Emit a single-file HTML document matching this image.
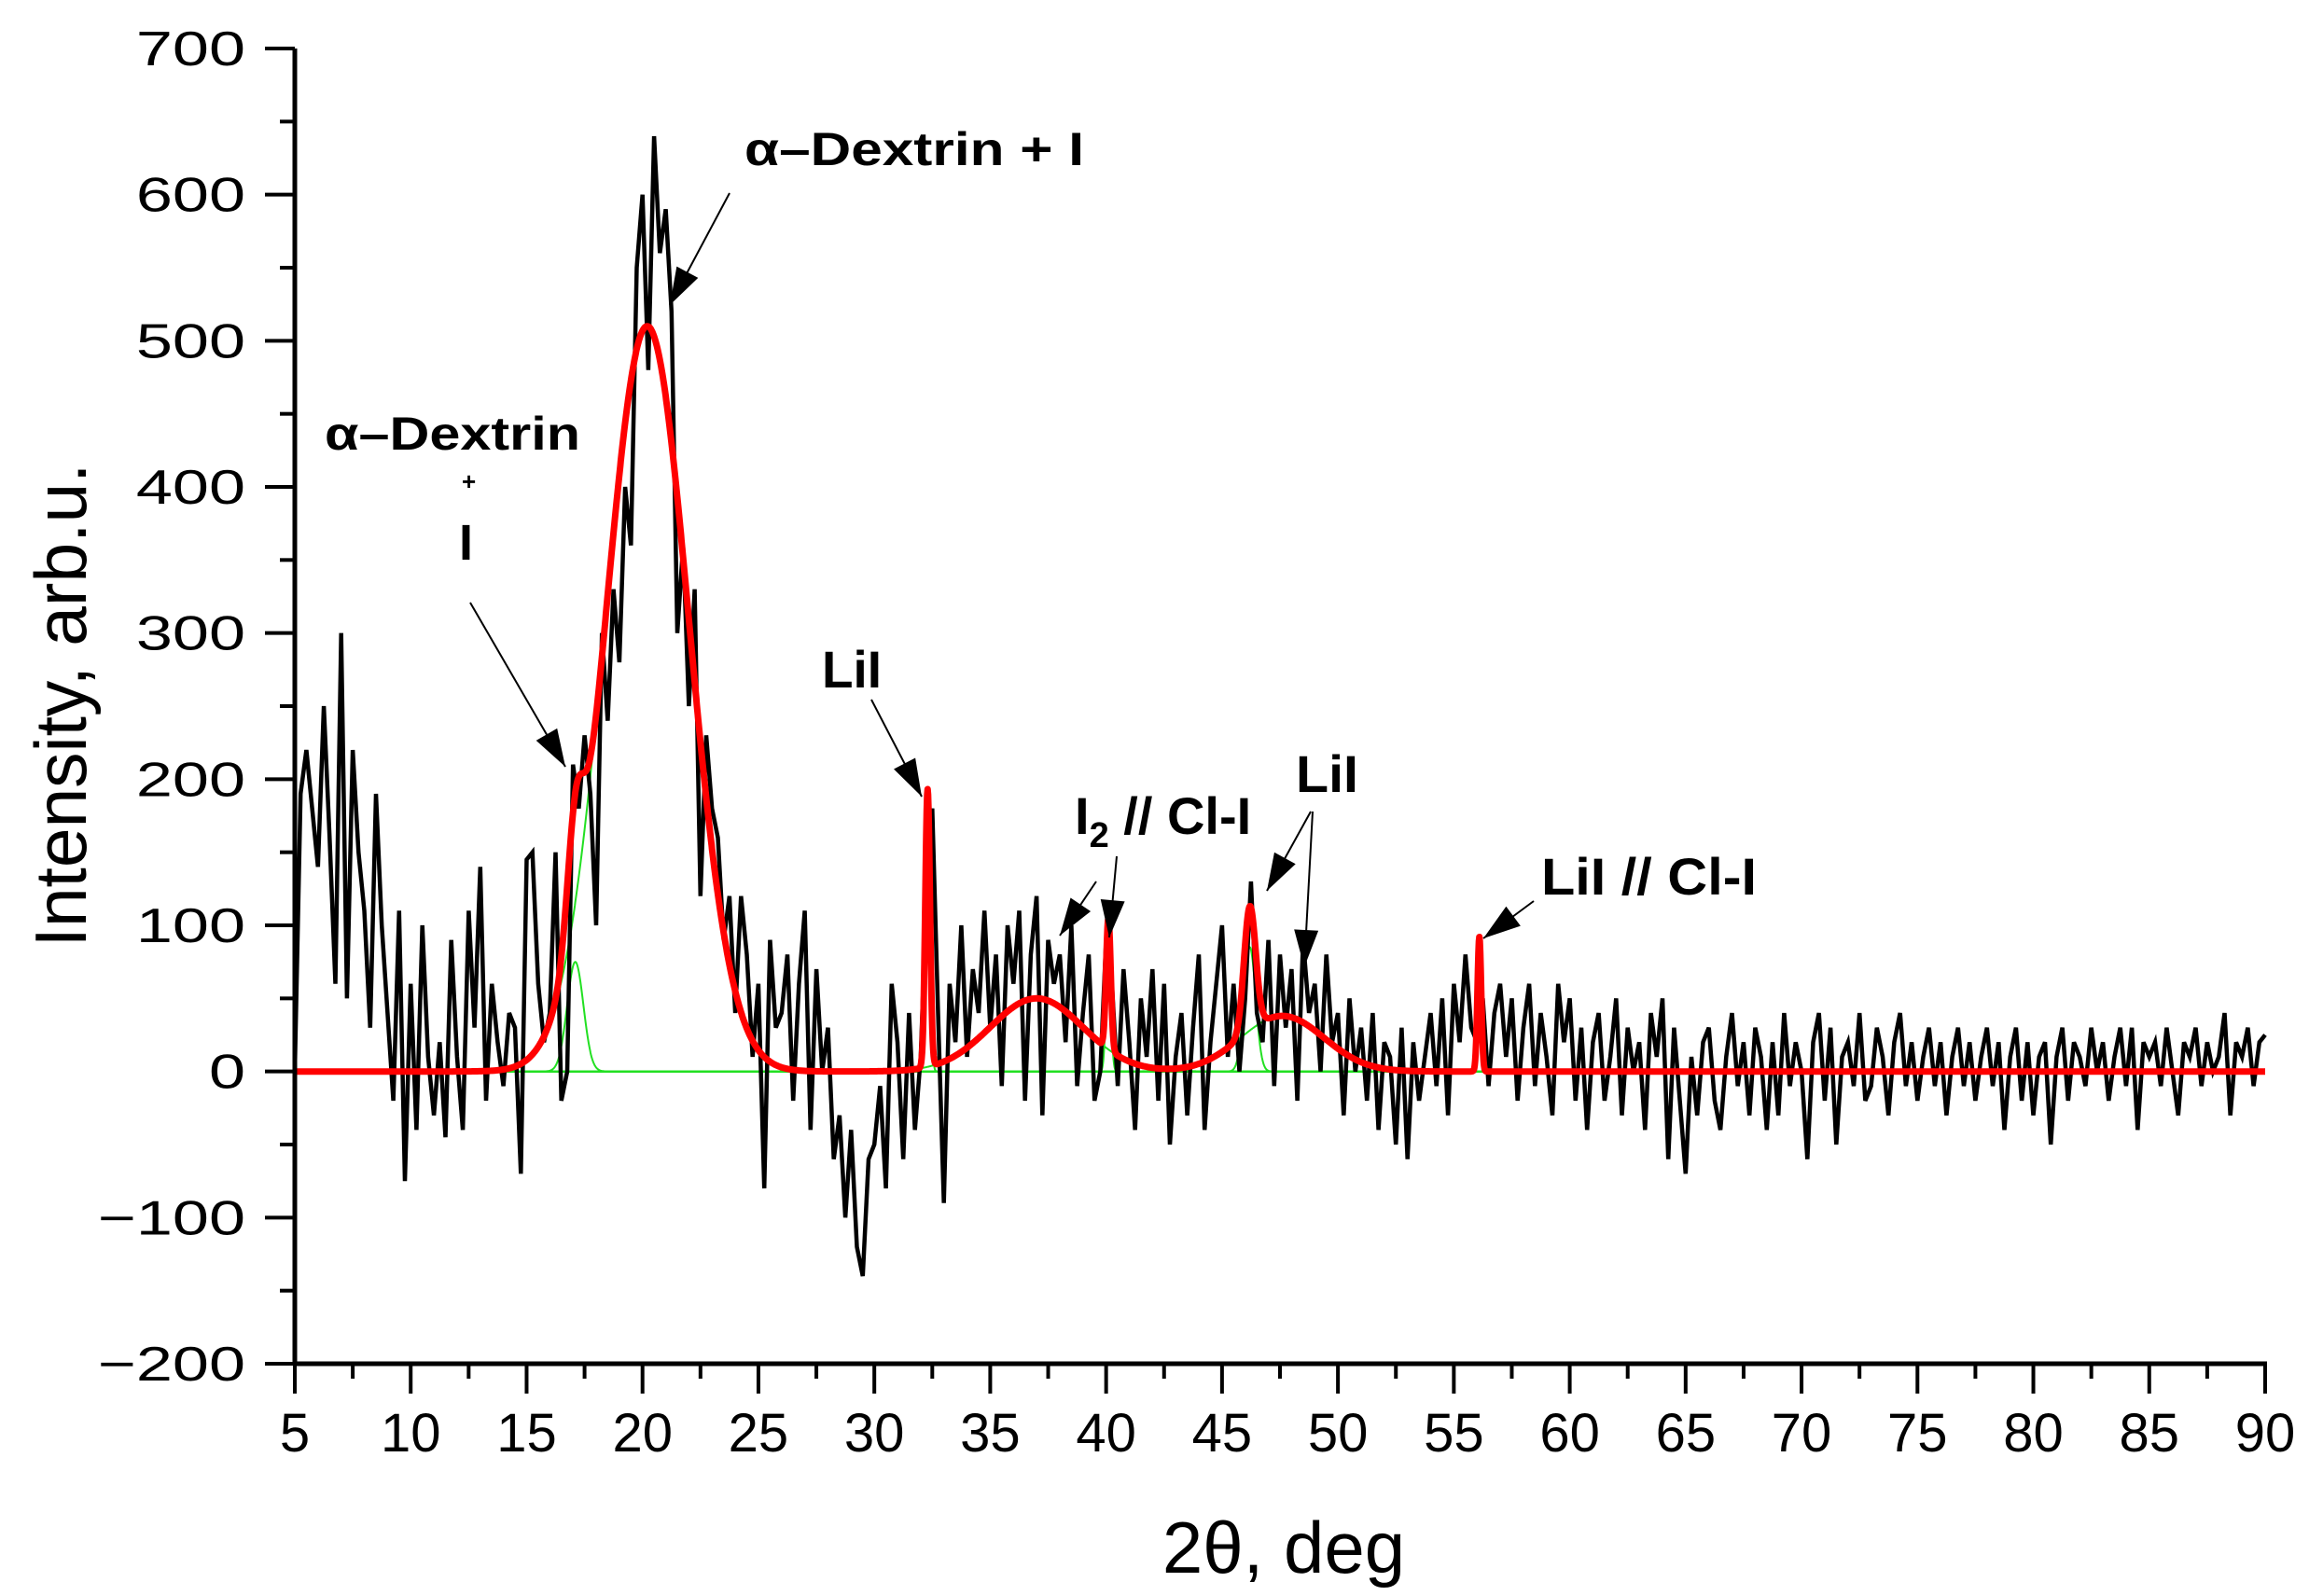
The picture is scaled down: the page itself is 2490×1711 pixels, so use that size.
<!DOCTYPE html>
<html><head><meta charset="utf-8"><style>html,body{margin:0;padding:0;background:#fff}svg{display:block}</style></head>
<body>
<svg id="chart" width="2490" height="1711" viewBox="0 0 2490 1711" xmlns="http://www.w3.org/2000/svg" font-family="'Liberation Sans', Arial, sans-serif">
<g id="grid"></g>
</svg>
<script>
// ---- data ----
const xStart = 5, xStep = 0.25;
const intensity = [
0,190,220,180, 140,250,160,60, 300,50,220,150, 110,30,190,100, 40,-20,110,-75,
60,-40,100,10, -30,20,-45,90, 10,-40,110,30, 140,-20,60,20, -10,40,30,-70,
145,150,60,20, 40,150,-20,0, 210,180,230,190, 100,300,240,330, 280,400,360,550,
600,480,640,560, 590,520,300,360, 250,330,120,230, 180,160,90,120, 40,120,80,10,
60,-80,90,30, 40,80,-20,60, 110,-40,70,0, 30,-60,-30,-100, -40,-120,-140,-60,
-50,-10,-80,60, 20,-60,40,-40, 10,120,180,40, -90,60,20,100, 10,70,40,110,
30,80,-10,100, 60,110,-20,80, 120,-30,90,60, 80,20,100,-10, 40,80,-20,0,
90,60,-10,70, 20,-40,50,10, 70,-20,60,-50, 10,40,-30,30, 80,-40,20,60,
100,10,60,0, 50,130,40,20, 90,-10,80,30, 70,-20,90,40, 60,0,80,20,
40,-30,50,0, 30,-20,40,-40, 20,10,-50,30, -60,20,-20,10, 40,-10,50,-30,
60,20,80,30, 20,50,-10,40, 60,10,50,-20, 30,60,-10,40, 10,-30,60,20,
50,-20,30,-40, 20,40,-20,10, 50,-30,30,0, 20,-40,40,10, 50,-60,30,-20,
-70,10,-30,20, 30,-20,-40,10, 40,-10,20,-30, 30,10,-40,20, -30,40,-10,20,
0,-60,20,40, -20,30,-50,10, 20,-10,40,-20, -10,30,10,-30, 20,40,-10,20,
-20,10,30,-10, 20,-30,10,30, -10,20,-20,10, 30,-10,20,-40, 10,30,-20,20,
-30,10,20,-50, 10,30,-20,20, 10,-10,30,0, 20,-20,10,30, -10,30,-40,20,
10,20,-10,30, 0,-30,20,10, 30,-10,20,0, 10,40,-30,20, 10,30,-10,20, 25];
const peakCenters = [17.1, 20.2, 32.3, 37.0, 40.1, 46.2, 47.6, 56.1];
const peakHeights = [75, 510, 190, 50, 90, 85, 38, 92];
const peakSigmas  = [0.35, 1.8, 0.1, 2.0, 0.1, 0.25, 1.8, 0.08];
const xTicks = [5,10,15,20,25,30,35,40,45,50,55,60,65,70,75,80,85,90];
const yTicks = [-200,-100,0,100,200,300,400,500,600,700];

// ---- axes ----
const L=316, R=2428, T=52, B=1462;
const sx = v => L + (v-5)/(90-5)*(R-L);
const sy = v => B - (v+200)/900*(B-T);
const NS="http://www.w3.org/2000/svg";
const svg=document.getElementById('chart');
function mk(tag, attrs, parent){const e=document.createElementNS(NS,tag);for(const k in attrs)e.setAttribute(k,attrs[k]);(parent||svg).appendChild(e);return e;}

// green components
peakCenters.forEach((c,i)=>{
  let d='';
  for(let x=5;x<=90.001;x+=0.02){const y=peakHeights[i]*Math.exp(-((x-c)**2)/(2*peakSigmas[i]**2));d+=(d?'L':'M')+sx(x).toFixed(1)+','+sy(y).toFixed(1);}
  const p=mk('path',{d:d,fill:'none',stroke:'#22e022','stroke-width':2});
  
  
});
// black data
let dd='';
intensity.forEach((v,i)=>{dd+=(i?'L':'M')+sx(xStart+i*xStep).toFixed(1)+','+sy(v).toFixed(1);});
const dl=mk('path',{d:dd,fill:'none',stroke:'#000','stroke-width':4.5,'stroke-linejoin':'miter'});


// red sum
let rd='';
for(let x=5;x<=90.001;x+=0.02){let y=0;peakCenters.forEach((c,i)=>{y+=peakHeights[i]*Math.exp(-((x-c)**2)/(2*peakSigmas[i]**2));});rd+=(rd?'L':'M')+sx(x).toFixed(1)+','+sy(y).toFixed(1);}
const rl=mk('path',{d:rd,fill:'none',stroke:'#ff0000','stroke-width':7,'stroke-linejoin':'round'});



// axis lines
const ya=mk('line',{x1:L,y1:T,x2:L,y2:B+2,stroke:'#000','stroke-width':5});


const xa=mk('line',{x1:L-2,y1:B,x2:R+2,y2:B,stroke:'#000','stroke-width':5});


// y ticks
for(let v=-200;v<=700;v+=50){const major=v%100===0;mk('line',{x1:L-(major?32:16),y1:sy(v),x2:L,y2:sy(v),stroke:'#000','stroke-width':4});}
yTicks.forEach(v=>{const t=mk('text',{x:263,y:sy(v)+18,'text-anchor':'end','font-size':52,transform:`translate(263,0) scale(1.35,1) translate(-263,0)`});t.textContent=(v<0?'\u2212':'')+Math.abs(v);
  
  });
// x ticks
for(let v=5;v<=90;v+=2.5){const major=v%5===0;mk('line',{x1:sx(v),y1:B,x2:sx(v),y2:B+(major?32:16),stroke:'#000','stroke-width':4});}
xTicks.forEach(v=>{const t=mk('text',{x:sx(v),y:1556,'text-anchor':'middle','font-size':58});t.textContent=v;
  
  });
</script>
<script>
(function(){
const svg=document.getElementById('chart');const NS="http://www.w3.org/2000/svg";
function mk(tag, attrs){const e=document.createElementNS(NS,tag);for(const k in attrs)e.setAttribute(k,attrs[k]);svg.appendChild(e);return e;}
function arrow(x1,y1,x2,y2){
  const l=mk('line',{x1:x1,y1:y1,x2:x2,y2:y2,stroke:'#000','stroke-width':2});
  
  
  const a=Math.atan2(y2-y1,x2-x1),len=40,w=13;
  const bx=x2-len*Math.cos(a),by=y2-len*Math.sin(a);
  const p=mk('polygon',{points:`${x2},${y2} ${bx+w*Math.sin(a)},${by-w*Math.cos(a)} ${bx-w*Math.sin(a)},${by+w*Math.cos(a)}`,fill:'#000'});
  
  
}
function label(txt,x,y,size,len,name){
  const t=mk('text',{x:x,y:y,'font-size':size,'font-weight':'bold'});
  if(len){t.setAttribute('textLength',len);t.setAttribute('lengthAdjust','spacingAndGlyphs');}
  t.textContent=txt;
  
  
  return t;
}
label('\u03b1\u2013Dextrin + I',798,177,50,364,'label-dextrin-main');
arrow(782,207,718,327);
label('\u03b1\u2013Dextrin',348,482,50,274,'label-dextrin-shoulder');
label('+',495,525,26,null,'label-plus');
label('I',492,600,54,null,'label-iodine');
arrow(504,646,606,822);
label('LiI',881,737,56,64,'label-lii-32');
arrow(934,750,988,854);
const t2=label('I',1152,894,56,null,'label-i2-cli');
const sub=document.createElementNS(NS,'tspan');sub.setAttribute('font-size',38);sub.setAttribute('dy',14);sub.textContent='2';t2.appendChild(sub);
const rest=document.createElementNS(NS,'tspan');rest.setAttribute('dy',-14);rest.textContent=' // Cl-I';t2.appendChild(rest);
arrow(1197,918,1189,1005);
arrow(1175,945,1136,1003);
label('LiI',1389,849,56,67,'label-lii-46');
arrow(1405,870,1358,955);
arrow(1407,870,1398,1037);
label('LiI // Cl-I',1652,959,56,231,'label-lii-cli-56');
arrow(1644,966,1590,1006);
// axis titles
const yt=mk('text',{x:0,y:0,'font-size':78,'text-anchor':'middle',textLength:519,lengthAdjust:'spacingAndGlyphs',transform:'translate(92,756) rotate(-90)'});
yt.textContent='Intensity, arb.u.';


const xt=mk('text',{x:1376,y:1686,'font-size':78,'text-anchor':'middle'});
xt.textContent='2\u03b8, deg';


})();
</script>
</body></html>
